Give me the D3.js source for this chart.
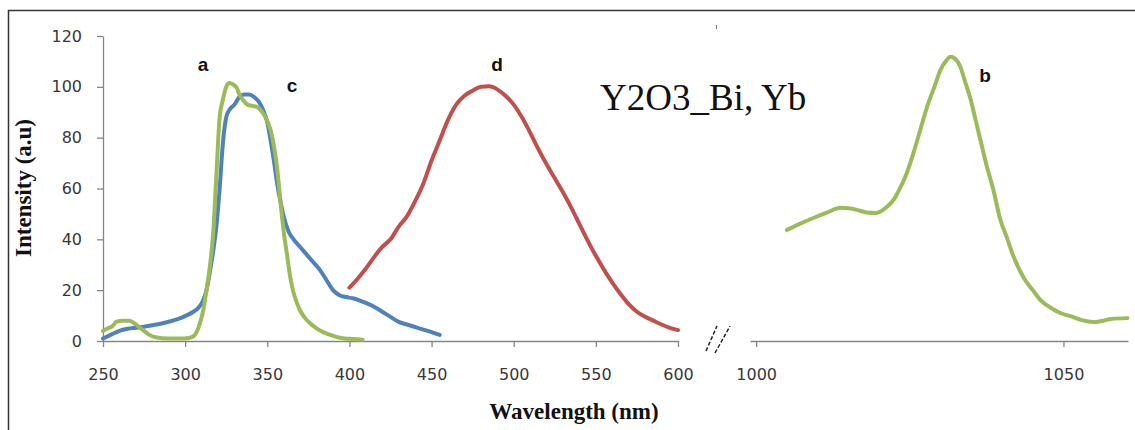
<!DOCTYPE html>
<html>
<head>
<meta charset="utf-8" />
<title>Y2O3_Bi, Yb</title>
<script src="https://cdn.jsdelivr.net/npm/d3@7"></script>
<style>
  body { margin: 0; background: #fff; }
</style>
</head>
<body>
<script>

// series c (blue)
var cNm  = [250,255,260,265,270,275,280,285,290,295,300,305,308,311,313,315,317,319,321,323,325,327,330,333,336,339,342,345,348,350,352,354,356,358,360,363,366,370,374,378,382,386,390,394,398,402,406,410,415,420,425,430,435,440,445,450,455];
var cVal = [1,2.5,4,4.8,5.2,5.6,6.2,6.8,7.6,8.5,9.8,11.5,13,16,20,27,35,45,60,78,88,91,93,96,97,97,96,94,90,86,79,71,62,55,49,43,40,37,34,31,28,24,20,18,17.3,16.8,16,15,13.5,11.5,9.5,7.5,6.5,5.5,4.5,3.5,2.4];

// series a (green, UV part)
var aNm  = [250,253,256,258,262,266,269,272,275,278,282,290,300,304,307,309,311,313,315,317,319,321,323,325,327,329,331.5,333,335,338,341,344,347,349,352,354,356,358,360,362,364,366,368,370,373,376,380,384,388,392,397,402,408];
var aVal = [4,5,6,7.5,8,8,7,5.5,4,2.5,1.5,1,1,1.5,3.5,7,12,20,29,42,65,88,95,100,101.5,101,99.5,97,95,93,92.5,92,90,88,83,77,68,55,43,34,25,19,15,12,9,7,5,3.5,2.5,1.6,1,0.8,0.5];

// series d (red)
var dNm  = [400,405,410,415,420,425,430,435,440,445,450,455,460,465,470,475,480,485,490,495,500,505,510,515,520,525,530,535,540,545,550,555,560,565,570,575,580,585,590,595,600];
var dVal = [21,24.5,28.5,33,37,40,45,49,55,62,71,79,87,93,96.5,98.5,100,100.2,99,96.5,93,88,82,75.5,69.5,64,58.5,52.5,46,39.5,33.5,28,23,18.5,14.5,11.5,9.5,8,6.5,5.2,4.3];

// series b (green, NIR part)
var bNm  = [1005,1007,1009.3,1011.5,1013.7,1015,1016.4,1018,1019.5,1021.3,1022.5,1023.5,1024.5,1025.6,1026.7,1027.8,1029,1030,1031,1031.6,1032.4,1033.2,1034,1034.9,1035.7,1036.5,1037.5,1038.6,1039.7,1040.9,1041.6,1043.5,1045,1046.3,1048,1049.5,1051.6,1053,1054.9,1056.5,1057.7,1060.4];
var bVal = [43.7,46,48.4,50.5,52.4,52.2,51.6,50.6,50.4,52.8,56,60.6,66,74,83,92,100,106.7,110.5,111.8,111,108,102,95,87,79,69,59.4,48,40,35,25,20,16,13,11,9.4,8.2,7.5,8,8.7,9];

var yTicks = [0,20,40,60,80,100,120];
var xTicksLeft = [250,300,350,400,450,500,550,600];
var xTicksRight = [1000,1050];

var width = 1135, height = 430;

var svg = d3.select("body").append("svg")
  .attr("width", width)
  .attr("height", height);

// frame
svg.append("path")
  .attr("d", "M8.5,430 V10.5 H1135")
  .attr("fill", "none")
  .attr("stroke", "#333")
  .attr("stroke-width", 1.5);
svg.append("line")
  .attr("x1", 716.5).attr("x2", 716.5).attr("y1", 25).attr("y2", 29)
  .attr("stroke", "#777");

var y = d3.scaleLinear().domain([0, 120]).range([341, 36]);
var xL = d3.scaleLinear().domain([250, 600]).range([103, 678]);
var xR = d3.scaleLinear().domain([999, 1060.5]).range([750, 1128]);

function styleAxis(g) {
  g.selectAll("path, line").attr("stroke", "#868686").attr("stroke-width", 1.3);
  g.selectAll("text")
    .attr("font-family", "DejaVu Sans, Verdana, sans-serif")
    .attr("font-size", "16px")
    .attr("fill", "#383838");
}

svg.append("g")
  .attr("transform", "translate(103,0)")
  .call(d3.axisLeft(y).tickValues(yTicks).tickSize(6).tickSizeOuter(0).tickPadding(15))
  .call(styleAxis);

svg.append("g")
  .attr("transform", "translate(0,341)")
  .call(d3.axisBottom(xL).tickValues(xTicksLeft).tickFormat(d3.format("d"))
    .tickSize(6).tickSizeOuter(0).tickPadding(22))
  .call(styleAxis);

svg.append("g")
  .attr("transform", "translate(0,341)")
  .call(d3.axisBottom(xR).tickValues(xTicksRight).tickFormat(d3.format("d"))
    .tickSize(6).tickSizeOuter(0).tickPadding(22))
  .call(styleAxis);

// axis break marks
[[706, 351, 717, 326], [715, 353, 730, 326]].forEach(function(s) {
  svg.append("line")
    .attr("x1", s[0]).attr("y1", s[1]).attr("x2", s[2]).attr("y2", s[3])
    .attr("stroke", "#222").attr("stroke-width", 1.5)
    .attr("stroke-dasharray", "4,2");
});

function drawSeries(nm, val, xs, color) {
  var pts = nm.map(function(d, i) { return [d, val[i]]; });
  var line = d3.line()
    .x(function(d) { return xs(d[0]); })
    .y(function(d) { return y(d[1]); })
    .curve(d3.curveMonotoneX);
  svg.append("path")
    .datum(pts)
    .attr("d", line)
    .attr("fill", "none")
    .attr("stroke", color)
    .attr("stroke-width", 4)
    .attr("stroke-linejoin", "round")
    .attr("stroke-linecap", "round");
}

drawSeries(cNm, cVal, xL, "#4F81BD");
drawSeries(aNm, aVal, xL, "#9BBB59");
drawSeries(dNm, dVal, xL, "#C0504D");
drawSeries(bNm, bVal, xR, "#9BBB59");

// curve labels
var labels = [
  { t: "a", x: 203, y: 71 },
  { t: "c", x: 292, y: 92 },
  { t: "d", x: 497, y: 71 },
  { t: "b", x: 985, y: 82 }
];
svg.selectAll("text.lbl")
  .data(labels)
  .enter()
  .append("text")
  .attr("class", "lbl")
  .attr("x", function(d) { return d.x; })
  .attr("y", function(d) { return d.y; })
  .attr("text-anchor", "middle")
  .attr("font-family", "Liberation Sans, Arial, sans-serif")
  .attr("font-weight", "bold")
  .attr("font-size", "19px")
  .attr("fill", "#111")
  .text(function(d) { return d.t; });

// title
svg.append("text")
  .attr("x", 600).attr("y", 110)
  .attr("font-family", "Liberation Serif, Times New Roman, serif")
  .attr("font-size", "37px")
  .attr("fill", "#111")
  .text("Y2O3_Bi, Yb");

// axis titles
svg.append("text")
  .attr("transform", "translate(31,188) rotate(-90)")
  .attr("text-anchor", "middle")
  .attr("font-family", "Liberation Serif, Times New Roman, serif")
  .attr("font-weight", "bold")
  .attr("font-size", "23px")
  .attr("fill", "#111")
  .text("Intensity (a.u)");

svg.append("text")
  .attr("x", 574).attr("y", 419)
  .attr("text-anchor", "middle")
  .attr("font-family", "Liberation Serif, Times New Roman, serif")
  .attr("font-weight", "bold")
  .attr("font-size", "23px")
  .attr("fill", "#111")
  .text("Wavelength (nm)");

</script>
</body>
</html>
